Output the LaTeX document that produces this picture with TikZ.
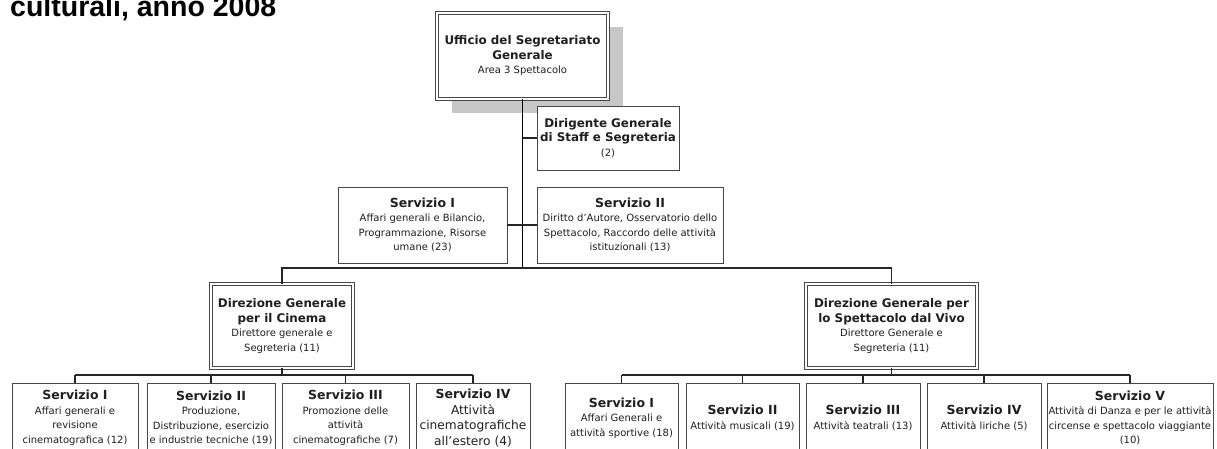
\documentclass[tikz,border=0pt]{standalone}
\usepackage{fontspec}
\setmainfont{DejaVu Sans}
\newfontfamily\headfont{Liberation Sans}
\usetikzlibrary{positioning,calc}

\newcommand\bodysize{\fontsize{10}{14.5}\selectfont}
\newcommand\bigbody{\fontsize{12.2}{15.5}\selectfont}
\newcommand\hdr[1]{{\fontsize{11.9}{15.5}\selectfont\bfseries #1}}
\newcommand\srv[1]{{\fontsize{12.5}{15}\selectfont\bfseries #1}}

\begin{document}
\begin{tikzpicture}[x=1pt,y=-1pt,
  box/.style={draw=black!72, line width=0.9pt, fill=white, align=center,
    inner sep=1pt, font=\bodysize, text=black!88},
  dbox/.style={box, double=white, double distance=1.7pt, line width=0.75pt},
  trunk/.style={line width=1.8pt},
  bus/.style={draw=black!85, line width=1.1pt}]
\useasboundingbox (0,0) rectangle (1217,448);

% titolo (tagliato in alto)
\node[anchor=base west, inner sep=0, font={\headfont\bfseries\fontsize{28.5}{32}\selectfont}]
  (titolo) at (10,16) {culturali, anno 2008};

% ombra del segretariato
\fill[black!22] (452,27) rectangle (623,113);
\node[dbox, minimum width=171pt, minimum height=86pt] (usg) at (522.5,56)
  {\hdr{Ufficio del Segretariato}\\ \hdr{Generale}\\ Area 3 Spettacolo};
\node[box, minimum width=142pt, minimum height=64pt] (dir) at (608,138)
  {\hdr{Dirigente Generale}\\ \hdr{di Staff e Segreteria}\\ (2)};

% servizi di staff
\node[box, minimum width=169pt, minimum height=76pt] (sa) at (422.5,225)
  {\srv{Servizio I}\\ Affari generali e Bilancio,\\ Programmazione, Risorse\\ umane (23)};
\node[box, minimum width=186pt, minimum height=76pt] (sb) at (630,225)
  {\srv{Servizio II}\\ Diritto d’Autore, Osservatorio dello\\ Spettacolo, Raccordo delle attività\\ istituzionali (13)};

% direzioni generali
\node[dbox, minimum width=142pt, minimum height=84pt] (dgc) at (282,326)
  {\hdr{Direzione Generale}\\ \hdr{per il Cinema}\\ Direttore generale e\\ Segreteria (11)};
\node[dbox, minimum width=171pt, minimum height=84pt] (dgs) at (891.5,326)
  {\hdr{Direzione Generale per}\\ \hdr{lo Spettacolo dal Vivo}\\ Direttore Generale e\\ Segreteria (11)};

% servizi cinema
\node[box, minimum width=126pt, minimum height=70pt] (c1) at (75,418)
  {\srv{Servizio I}\\ Affari generali e\\ revisione\\ cinematografica (12)};
\node[box, minimum width=128pt, minimum height=70pt] (c2) at (211,418)
  {\srv{Servizio II}\\ Produzione,\\ Distribuzione, esercizio\\ e industrie tecniche (19)};
\node[box, minimum width=127pt, minimum height=70pt] (c3) at (345.5,418)
  {\srv{Servizio III}\\ Promozione delle\\ attività\\ cinematografiche (7)};
\node[box, font=\bigbody, minimum width=114pt, minimum height=70pt] (c4) at (473,418)
  {\srv{Servizio IV}\\ Attività\\ cinematografiche\\ all’estero (4)};

% servizi spettacolo dal vivo
\node[box, minimum width=113pt, minimum height=70pt] (v1) at (621.5,418)
  {\srv{Servizio I}\\ Affari Generali e\\ attività sportive (18)};
\node[box, minimum width=113pt, minimum height=70pt] (v2) at (742.5,418)
  {\srv{Servizio II}\\ Attività musicali (19)};
\node[box, minimum width=114pt, minimum height=70pt] (v3) at (863,418)
  {\srv{Servizio III}\\ Attività teatrali (13)};
\node[box, minimum width=114pt, minimum height=70pt] (v4) at (984,418)
  {\srv{Servizio IV}\\ Attività liriche (5)};
\node[box, minimum width=166pt, minimum height=70pt] (v5) at (1130,418)
  {\srv{Servizio V}\\ Attività di Danza e per le attività\\ circense e spettacolo viaggiante\\ (10)};

% collegamenti
\coordinate (hub) at (522.5,268);
\coordinate (cbus) at (282,375);
\coordinate (sbus) at (891.5,375);
\draw[trunk] (usg) -- (hub);
\draw[bus] (dir.west) -- (dir.west -| hub);
\draw[bus] (sa.east) -- (sb.west);
\draw[bus] (dgc) |- (hub) -| (dgs);
\draw[bus] (dgc) -- (cbus);
\draw[bus] (dgs) -- (sbus);
\draw[bus] (c1.north |- cbus) -- (c4.north |- cbus);
\draw[bus] (v1.north |- sbus) -- (v5.north |- sbus);
\foreach \n in {c1,c2,c3,c4}
  \draw[bus] (\n.north) -- (\n.north |- cbus);
\foreach \n in {v1,v2,v3,v4,v5}
  \draw[bus] (\n.north) -- (\n.north |- sbus);
\end{tikzpicture}
\end{document}
